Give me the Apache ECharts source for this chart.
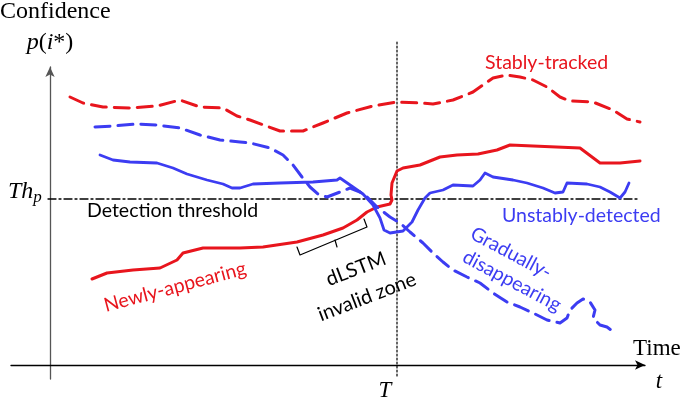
<!DOCTYPE html>
<html><head><meta charset="utf-8">
<script src="https://cdn.jsdelivr.net/npm/echarts@6/dist/echarts.min.js"></script>
<style>html,body{margin:0;padding:0;background:#fff}#c{width:685px;height:401px}</style>
</head><body><div id="c"></div>
<script>
// time (frames) vs confidence (arbitrary units)
const stablyTracked = [[20,268],[33,262],[53,258],[80,257],[107,259],[130,265],[150,258],[173,257],[187,249],[200,245],[230,234],[253,234],[273,242],[297,252],[323,259],[347,263],[370,262],[383,261],[403,265],[423,273],[443,287],[457,290],[470,288],[483,285],[497,278],[510,268],[520,264],[543,263],[563,255],[577,246],[590,243]];
const newlyAppearing = [[42,86],[57,92],[83,95],[110,97],[127,105],[133,112],[153,117],[170,117],[190,117],[213,118],[247,123],[273,130],[293,137],[307,145],[317,153],[327,158],[340,161],[342,165],[341,170],[342,182],[347,194],[353,197],[370,200],[390,208],[407,210],[428,211],[447,215],[460,220],[483,219],[530,217],[550,202],[570,202],[590,204]];
const unstablyDetected = [[50,210],[63,205],[80,203],[107,202],[123,197],[137,191],[157,185],[173,181],[182,177],[190,177],[203,181],[230,182],[263,183],[287,185],[290,187],[303,178],[313,171],[323,160],[330,147],[334,135],[340,132],[353,134],[362,143],[368,155],[375,167],[380,172],[393,175],[403,180],[423,179],[430,185],[435,192],[443,188],[463,185],[477,182],[493,177],[505,172],[513,173],[517,182],[537,181],[550,178],[560,173],[570,167],[575,173],[579,182]];
const graduallyDisappearing = [[45,238],[63,239],[87,241],[107,240],[130,237],[150,230],[170,225],[190,223],[200,222],[220,217],[233,210],[243,200],[252,188],[260,178],[268,171],[277,168],[290,173],[300,177],[310,173],[317,168],[327,158],[340,148],[350,142],[360,133],[373,122],[383,112],[393,103],[403,95],[417,88],[430,82],[443,72],[457,63],[470,58],[483,52],[497,45],[510,42],[517,47],[520,55],[527,62],[533,66],[540,63],[545,55],[543,47],[550,40],[557,38],[565,32]];
const thresholdLine = [[-2,166],[590,166]];
const timeT = [[347,323],[347,-13]];
const invalidBracket = [[247,118],[250,110],[317,138],[314,146]];
const bracketTick = [[285,125],[287,118]];

const RED = '#e8151d', BLUE = '#3c3cf2';
const SANS = 'Lato, "Open Sans", sans-serif';
const SERIF = '"Liberation Serif", "DejaVu Serif", serif';

const chart = echarts.init(document.getElementById('c'));
function line(data, color, width, type, z) {
  return {type:'line', data, showSymbol:false, silent:true, clip:false, z:z||2, animation:false,
    lineStyle:{color, width, type:type||'solid', cap:'round', join:'round'}};
}
function txt(text, x, y, color, font, rot) {
  return {type:'text', x, y, rotation: (rot||0)*Math.PI/180,
    style:{text, x:0, y:0, align:'center', verticalAlign:'middle', fill:color, font}};
}
const F = '19.5px ' + SANS;
chart.setOption({
  animation:false,
  grid:{left:11, right:40, top:67, bottom:22},
  xAxis:{type:'value', min:-39, max:595, axisLabel:{show:false}, axisTick:{show:false}, splitLine:{show:false},
    axisLine:{onZero:true, lineStyle:{color:'#000', width:1.3}, symbol:['none','arrow'], symbolSize:[7,10]}},
  yAxis:{type:'value', min:-14, max:298, axisLabel:{show:false}, axisTick:{show:false}, splitLine:{show:false},
    axisLine:{onZero:true, lineStyle:{color:'#555', width:1.3}, symbol:['none','arrow'], symbolSize:[7,10]}},
  series:[
    line(thresholdLine, '#000', 1.3, [8,3,2,3], 1),
    line(timeT, '#000', 1.2, [2,2], 1),
    line(invalidBracket, '#000', 1.2),
    line(bracketTick, '#000', 1.2),
    line(stablyTracked, RED, 3, [15,8]),
    line(newlyAppearing, RED, 3),
    line(graduallyDisappearing, BLUE, 3, [15,8]),
    line(unstablyDetected, BLUE, 2.8)
  ],
  graphic:[
    {type:'text', left:0, top:0, style:{text:'Confidence', font:'24px '+SERIF, fill:'#000'}},
    {type:'text', x:50, y:43,
      style:{text:'{i|p}{n|(}{i|i}{n|*)}', x:0, y:0, align:'center', verticalAlign:'middle',
        rich:{i:{font:'italic 24px '+SERIF, fill:'#000'}, n:{font:'24px '+SERIF, fill:'#000'}}}},
    {type:'text', x:8, y:192, style:{text:'{a|Th}{b|p}', verticalAlign:'middle',
        rich:{a:{font:'italic 24px '+SERIF, fill:'#000'}, b:{font:'italic 17px '+SERIF, fill:'#000', padding:[12,0,0,0]}}}},
    {type:'text', x:87, y:211, style:{text:'Detection threshold', verticalAlign:'middle', font:F, fill:'#000'}},
    {type:'text', x:485, y:63, style:{text:'Stably-tracked', verticalAlign:'middle', font:F, fill:RED}},
    {type:'text', x:502, y:216, style:{text:'Unstably-detected', verticalAlign:'middle', font:F, fill:BLUE}},
    txt('Newly-appearing', 175, 287, RED, F, 15),
    txt('dLSTM', 356, 269, '#000', '20px '+SANS, 21),
    txt('invalid zone', 367, 297, '#000', '20px '+SANS, 21),
    txt('Gradually-', 511, 253, BLUE, F, -28),
    txt('disappearing', 512, 281, BLUE, F, -28),
    {type:'text', x:633, y:349, style:{text:'Time', verticalAlign:'middle', font:'23px '+SERIF, fill:'#000'}},
    txt('t', 659, 382, '#000', 'italic 23px '+SERIF),
    txt('T', 385, 391, '#000', 'italic 23px '+SERIF)
  ]
});
</script></body></html>
